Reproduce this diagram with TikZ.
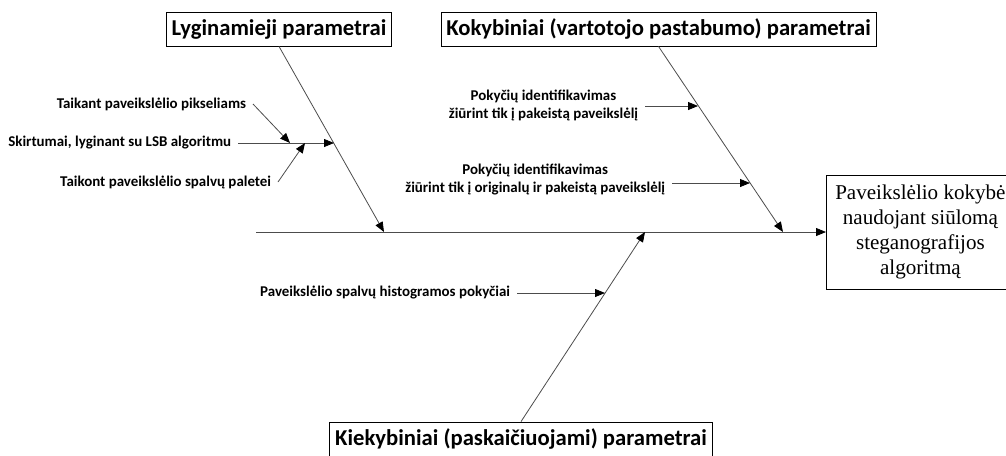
\documentclass[tikz,border=0pt]{standalone}
\usepackage{fontspec}
\setmainfont{Liberation Serif}
\newfontfamily\calibri{Carlito}
\usetikzlibrary{positioning}
\usetikzlibrary{arrows.meta}

\begin{document}
\begin{tikzpicture}[x=0.75pt,y=-0.75pt,
    title/.style={draw, line width=0.6pt, font=\calibri\bfseries\fontsize{17}{20}\selectfont, minimum height=25.5pt, inner xsep=4pt, inner ysep=2pt},
    lbl/.style={font=\calibri\bfseries\fontsize{11.2}{13.5}\selectfont, align=center, inner xsep=5pt, inner ysep=1pt},
    bone/.style={draw=black!70, line width=0.6pt},
    tip/.style={-{Triangle[length=7.5pt,width=6pt,color=black]}}]
    \useasboundingbox (0,0) rectangle (1006,455);
    \clip (0,0) rectangle (1006,455);
    % result box, cut by the right edge
    \node[draw, line width=0.6pt, anchor=west, minimum width=141pt, minimum height=85.5pt, inner xsep=1.5pt, align=center, font=\fontsize{15.8}{18.75}\selectfont] (result) at (826,232) {Paveikslėlio kokybė\\naudojant siūlomą\\steganografijos\\algoritmą};
    % spine
    \coordinate (tail) at (256,232);
    \coordinate (l0) at (384,232);
    \coordinate (q0) at (645,232);
    \coordinate (k0) at (783,232);
    \draw[bone,tip] (tail) -- (result.west);
    % main groups
    \node[title] (lyg) at (279,29) {Lyginamieji parametrai};
    \node[title] (koky) at (658.5,29) {Kokybiniai (vartotojo pastabumo) parametrai};
    \node[title] (kiek) at (521,439) {Kiekybiniai (paskaičiuojami) parametrai};
    \draw[bone,tip] (lyg.south) -- (l0);
    \draw[bone,tip] (koky.south) -- (k0);
    \draw[bone,tip] (kiek.north) -- (q0);
    % points on the bones
    \coordinate (l1) at (334,143);
    \coordinate (s1) at (290,143);
    \coordinate (s2) at (305,143);
    \coordinate (k1) at (698,106);
    \coordinate (k2) at (750,183);
    \coordinate (q1) at (605,293);
    % causes
    \node[lbl, anchor=east] (skirt) at (238,143) {Skirtumai, lyginant su LSB algoritmu};
    \node[lbl, anchor=east] (taik) at (253,104) {Taikant paveikslėlio pikseliams};
    \node[lbl, anchor=east] (palet) at (278,182) {Taikont paveikslėlio spalvų paletei};
    \node[lbl, anchor=east] (pok1) at (645,105) {Pokyčių identifikavimas\\žiūrint tik į pakeistą paveikslėlį};
    \node[lbl, anchor=east] (pok2) at (672,180) {Pokyčių identifikavimas\\žiūrint tik į originalų ir pakeistą paveikslėlį};
    \node[lbl, anchor=east] (hist) at (517,293) {Paveikslėlio spalvų histogramos pokyčiai};
    \draw[bone,tip] (skirt.east) -- (l1);
    \draw[bone,tip] (taik.east) -- (s1);
    \draw[bone,tip] (palet.east) -- (s2);
    \draw[bone,tip] (pok1.east |- k1) -- (k1);
    \draw[bone,tip] (pok2.east |- k2) -- (k2);
    \draw[bone,tip] (hist.east) -- (q1);
\end{tikzpicture}
\end{document}
